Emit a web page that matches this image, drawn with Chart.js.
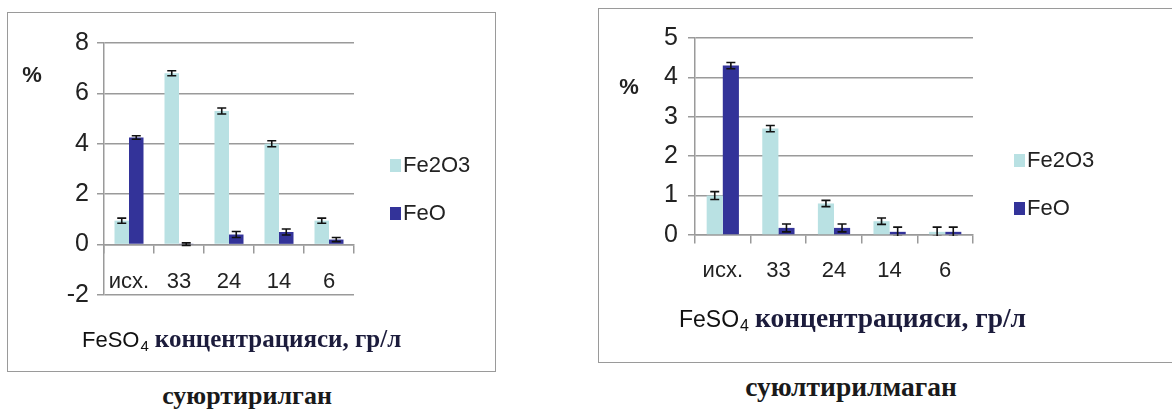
<!DOCTYPE html>
<html>
<head>
<meta charset="utf-8">
<script src="https://cdn.jsdelivr.net/npm/chart.js@4.4.1/dist/chart.umd.min.js"></script>
<style>
    body { margin: 0; background: #fff; width: 1172px; height: 410px; overflow: hidden; position: relative; }
    .panel { position: absolute; }
    .frame { position: absolute; border: 1.5px solid #9a9a9a; box-sizing: border-box; pointer-events: none; }
    .caption { position: absolute; font-family: 'Liberation Serif', 'Times New Roman', serif; font-weight: bold; color: #1a1a1a;
               transform: translate(-50%, -50%); white-space: nowrap; }
</style>
</head>
<body>
<script>
// --- Data ---
const categories = ['исх.', '33', '24', '14', '6'];
const seriesNames = ['Fe2O3', 'FeO'];

// left panel: суюртирилган
const leftFe2O3 = [0.95, 6.8, 5.3, 4.0, 0.95];
const leftFeO = [4.25, 0.02, 0.4, 0.5, 0.2];
const leftFe2O3Err = [0.1, 0.1, 0.12, 0.12, 0.1];
const leftFeOErr = [0.07, 0.05, 0.12, 0.12, 0.08];
const leftTicks = [-2, 0, 2, 4, 6, 8];

// right panel: суюлтирилмаган
const rightFe2O3 = [1.0, 2.7, 0.8, 0.35, 0.08];
const rightFeO = [4.3, 0.18, 0.18, 0.08, 0.08];
const rightFe2O3Err = [0.1, 0.08, 0.08, 0.08, 0.12];
const rightFeOErr = [0.08, 0.1, 0.1, 0.12, 0.12];
const rightTicks = [0, 1, 2, 3, 4, 5];

// --- Colors / fonts ---
const lightColor = '#b9e1e3';
const darkColor = '#333399';
const gridColor = '#9a9a9a';
const narrowFont = "'Liberation Sans Narrow', 'Arial Narrow', 'Liberation Sans', Arial, sans-serif";

// error bars drawn over each bar
const errorBarPlugin = {
    id: 'errorBars',
    afterDatasetsDraw(chart) {
        const ctx = chart.ctx;
        const y = chart.scales.y;
        const area = chart.chartArea;
        ctx.save();
        ctx.beginPath();
        ctx.rect(area.left, area.top, area.right - area.left, area.bottom - area.top + 1);
        ctx.clip();
        ctx.strokeStyle = '#111';
        ctx.lineWidth = 1.6;
        chart.data.datasets.forEach(function (ds, i) {
            chart.getDatasetMeta(i).data.forEach(function (bar, j) {
                const v = ds.data[j], e = ds.errors[j];
                const yTop = y.getPixelForValue(v + e);
                const yBot = y.getPixelForValue(v - e);
                ctx.beginPath();
                ctx.moveTo(bar.x, yTop); ctx.lineTo(bar.x, yBot);
                ctx.moveTo(bar.x - 4.5, yTop); ctx.lineTo(bar.x + 4.5, yTop);
                ctx.moveTo(bar.x - 4.5, yBot); ctx.lineTo(bar.x + 4.5, yBot);
                ctx.stroke();
            });
        });
        ctx.restore();
    }
};

// legend, "%" and the mixed-font axis title
const decorPlugin = {
    id: 'decor',
    afterDraw(chart, args, opts) {
        const ctx = chart.ctx;
        ctx.save();

        // legend
        chart.data.datasets.forEach(function (ds, i) {
            const ly = opts.legendY[i];
            ctx.fillStyle = ds.backgroundColor;
            ctx.fillRect(opts.legendX, ly - 6, 11, 13);
            ctx.fillStyle = '#222';
            ctx.font = opts.legendSize + "px 'Liberation Sans', Arial, sans-serif";
            ctx.textBaseline = 'middle';
            ctx.textAlign = 'left';
            ctx.fillText(ds.label, opts.legendX + 13, ly + 1);
        });

        // "%"
        ctx.fillStyle = '#222';
        ctx.font = 'bold 22px ' + narrowFont;
        ctx.textAlign = 'center';
        ctx.fillText('%', opts.pctX, opts.pctY);

        // axis title: FeSO4 концентрацияси, гр/л
        let x = opts.titleX;
        const ty = opts.titleY;
        ctx.textAlign = 'left';
        ctx.textBaseline = 'alphabetic';
        ctx.fillStyle = '#111';
        ctx.font = opts.sansSize + "px 'Liberation Sans', Arial, sans-serif";
        ctx.fillText('FeSO', x, ty);
        x += ctx.measureText('FeSO').width + 1;
        ctx.font = Math.round(opts.sansSize * 0.7) + "px 'Liberation Sans', Arial, sans-serif";
        ctx.fillText('4', x, ty + 4);
        x += ctx.measureText('4').width + 6;
        ctx.fillStyle = '#1c1c3c';
        ctx.font = 'bold ' + opts.serifSize + "px 'Liberation Serif', 'Times New Roman', serif";
        ctx.fillText('концентрацияси, гр/л', x, ty);

        ctx.restore();
    }
};

function buildPanel(p) {
    const wrap = document.createElement('div');
    wrap.className = 'panel';
    wrap.style.left = p.left + 'px';
    wrap.style.top = p.top + 'px';
    wrap.style.width = p.width + 'px';
    wrap.style.height = p.height + 'px';
    document.body.appendChild(wrap);

    const canvas = document.createElement('canvas');
    canvas.width = p.width;
    canvas.height = p.height;
    wrap.appendChild(canvas);

    const frame = document.createElement('div');
    frame.className = 'frame';
    frame.style.left = p.left + 'px';
    frame.style.top = p.top + 'px';
    frame.style.width = p.frameW + 'px';
    frame.style.height = p.height + 'px';
    document.body.appendChild(frame);

    const cap = document.createElement('div');
    cap.className = 'caption';
    cap.textContent = p.caption;
    cap.style.fontSize = p.capSize + 'px';
    cap.style.left = p.capX + 'px';
    cap.style.top = p.capY + 'px';
    document.body.appendChild(cap);

    new Chart(canvas.getContext('2d'), {
        type: 'bar',
        data: {
            labels: categories,
            datasets: [
                { label: seriesNames[0], data: p.light, errors: p.lightErr, backgroundColor: lightColor },
                { label: seriesNames[1], data: p.dark, errors: p.darkErr, backgroundColor: darkColor }
            ]
        },
        options: {
            responsive: false,
            animation: false,
            categoryPercentage: 0.58,
            barPercentage: 1.0,
            layout: { padding: p.padding },
            plugins: {
                legend: { display: false },
                tooltip: { enabled: false },
                decor: p.decor
            },
            scales: {
                x: {
                    position: { y: 0 },
                    afterFit: function (scale) { scale.height = 0; },
                    grid: { display: true, drawOnChartArea: false, drawTicks: true, tickLength: 8, color: gridColor, lineWidth: 1.5 },
                    border: { display: true, color: gridColor, width: 1.5 },
                    ticks: { color: '#222', font: { family: narrowFont, size: 22 }, padding: p.xTickPad, maxRotation: 0 }
                },
                y: {
                    min: p.ticks[0],
                    max: p.ticks[p.ticks.length - 1],
                    afterFit: function (scale) { scale.width = 97; },
                    afterBuildTicks: function (scale) {
                        scale.ticks = p.ticks.map(function (v) { return { value: v }; });
                    },
                    grid: { color: gridColor, lineWidth: 1.5, tickLength: 7 },
                    border: { display: true, color: gridColor, width: 1.5 },
                    ticks: { color: '#222', font: { family: narrowFont, size: 25 }, padding: p.yTickPad }
                }
            }
        },
        plugins: [errorBarPlugin, decorPlugin]
    });
}

document.addEventListener('DOMContentLoaded', function () {
    buildPanel({
        left: 7, top: 12, width: 489, height: 360, frameW: 489,
        padding: { left: 0, right: 142, top: 31, bottom: 77 },
        light: leftFe2O3, dark: leftFeO, lightErr: leftFe2O3Err, darkErr: leftFeOErr,
        ticks: leftTicks, xTickPad: 16, yTickPad: 8,
        caption: 'суюртирилган', capSize: 26, capX: 247, capY: 396,
        decor: { legendX: 383, legendY: [153, 201], legendSize: 22, pctX: 25, pctY: 64,
                 titleX: 75, titleY: 335, sansSize: 22, serifSize: 25 }
    });
    buildPanel({
        left: 598, top: 8, width: 574, height: 355, frameW: 600,
        padding: { left: 0, right: 199, top: 30, bottom: 128 },
        light: rightFe2O3, dark: rightFeO, lightErr: rightFe2O3Err, darkErr: rightFeOErr,
        ticks: rightTicks, xTickPad: 15, yTickPad: 10,
        caption: 'суюлтирилмаган', capSize: 27.5, capX: 851, capY: 387,
        decor: { legendX: 416, legendY: [152, 200], legendSize: 22, pctX: 31, pctY: 80,
                 titleX: 81, titleY: 319, sansSize: 23, serifSize: 27.5 }
    });
});
</script>
</body>
</html>
